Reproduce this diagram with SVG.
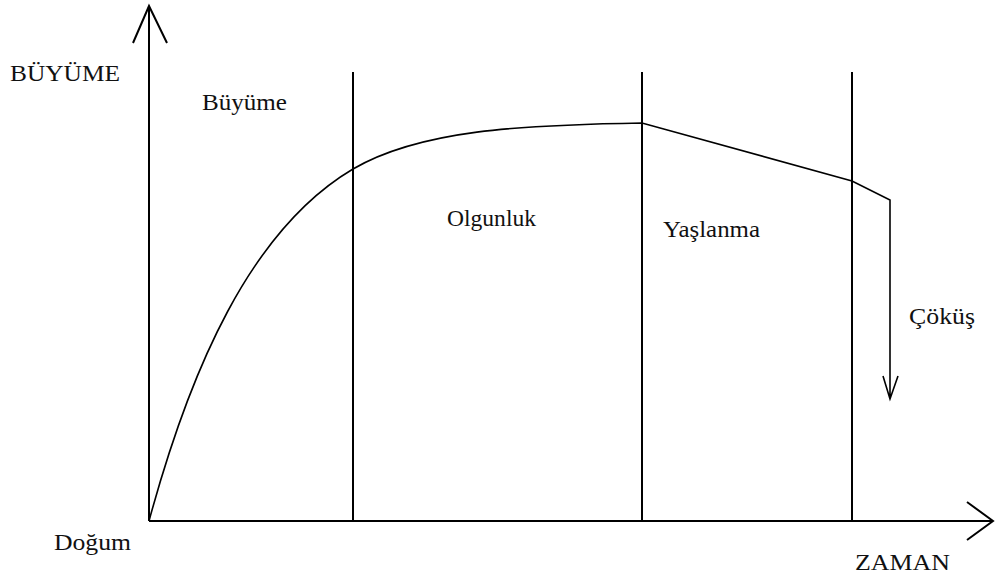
<svg xmlns="http://www.w3.org/2000/svg" width="996" height="581" viewBox="0 0 996 581">
<style>
.ax{stroke:#000;stroke-width:2;fill:none}
.cv{stroke:#000;stroke-width:1.6;fill:none}
.t{font-family:"Liberation Serif","Times New Roman",serif;font-size:24px;fill:#111}
</style>
<rect width="996" height="581" fill="#fff"/>
<g id="connectors">
<path class="ax" d="M149,521 V6 M133,43 L149,6 L167,43"/>
<path class="ax" d="M149,521 H993 M967,502 L993,521 L967,540"/>
<path class="ax" d="M353,72 V521 M642,72 V521 M852,72 V521"/>
<path class="cv" d="M149,521 C190,370 250,230 353,169 C420,130 520,125 642,123 L852,181 L890,200 V399 M883,376 L890,399 L898,376"/>
</g>
<g id="labels">
<text class="t" x="10" y="81" textLength="110" lengthAdjust="spacingAndGlyphs">BÜYÜME</text>
<text class="t" x="202" y="110" textLength="85" lengthAdjust="spacingAndGlyphs">Büyüme</text>
<text class="t" x="447" y="226" textLength="89" lengthAdjust="spacingAndGlyphs">Olgunluk</text>
<text class="t" x="663" y="237" textLength="97" lengthAdjust="spacingAndGlyphs">Yaşlanma</text>
<text class="t" x="909" y="324" textLength="66" lengthAdjust="spacingAndGlyphs">Çöküş</text>
<text class="t" x="54" y="550" textLength="77" lengthAdjust="spacingAndGlyphs">Doğum</text>
<text class="t" x="855" y="570" textLength="95" lengthAdjust="spacingAndGlyphs">ZAMAN</text>
</g>
</svg>
